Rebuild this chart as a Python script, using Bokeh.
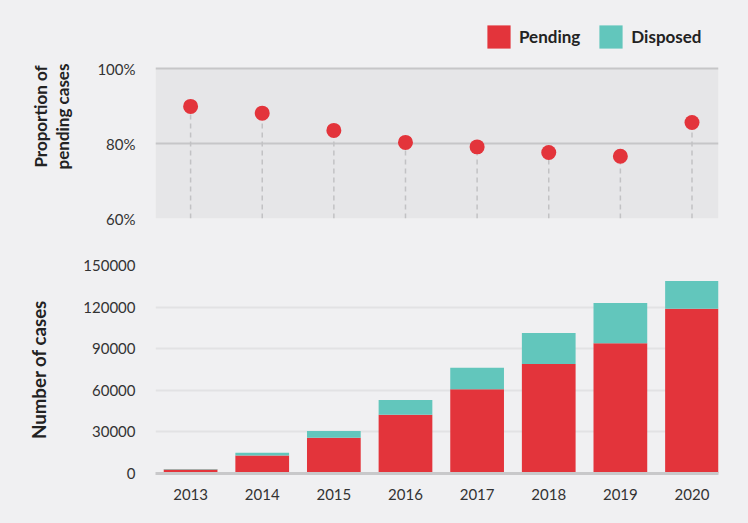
from bokeh.plotting import figure
from bokeh.layouts import column
from bokeh.models import (Range1d, FixedTicker, Legend, LegendItem, ColumnDataSource, BoxAnnotation,
                          PrintfTickFormatter, BasicTickFormatter, GlobalInlineStyleSheet)
from bokeh.embed import file_html
from bokeh.resources import INLINE

years = [2013, 2014, 2015, 2016, 2017, 2018, 2019, 2020]
pending_share = [89.9, 88.1, 83.5, 80.3, 79.1, 77.6, 76.6, 85.6]
pending = [2900, 13000, 25800, 42400, 60700, 79000, 94000, 118900]
disposed = [330, 1900, 4800, 10600, 15600, 22400, 29000, 20000]
share_ticks = [60, 80, 100]
count_ticks = [0, 30000, 60000, 90000, 120000, 150000]

RED = "#e3343b"
TEAL = "#62c6bc"
BG = "#f0f0f2"
PANEL = "#e6e6e8"
FONT = "Lato"
TXT = "#333333"

x_range = Range1d(2012.51, 2020.37)

# ---------- top panel: proportion of pending cases ----------
# frame extends above 100% to leave room for the legend; grey panel covers 60-100 only
TOP_FRAME_H = 204
PANEL_H = 150
share_span = share_ticks[-1] - share_ticks[0]
share_top = share_ticks[0] + share_span * TOP_FRAME_H / PANEL_H

p1 = figure(width=748, height=228, x_range=x_range, y_range=Range1d(share_ticks[0], share_top),
            output_backend="svg", toolbar_location=None,
            min_border_left=155, min_border_right=30, min_border_top=14, min_border_bottom=10)
p1.background_fill_color = BG
p1.border_fill_color = BG
p1.outline_line_color = None

p1.add_layout(BoxAnnotation(bottom=share_ticks[0], top=share_ticks[-1], fill_color=PANEL,
                            fill_alpha=1, line_color=None, level="image"))

src1 = ColumnDataSource(dict(x=years, y=pending_share, base=[share_ticks[0]] * len(years)))
p1.segment(x0="x", y0="base", x1="x", y1="y", source=src1,
           line_color="#c2c2c4", line_width=1.5, line_dash="5 4")
p1.scatter(x="x", y="y", source=src1, size=15, fill_color=RED, line_color=None)

p1.xaxis.visible = False
p1.xgrid.visible = False
p1.ygrid.grid_line_color = "#c6c6c8"
p1.ygrid.grid_line_width = 2
p1.yaxis.ticker = FixedTicker(ticks=share_ticks)
p1.yaxis.formatter = PrintfTickFormatter(format="%d%%")
p1.yaxis.axis_line_color = None
p1.yaxis.major_tick_line_color = None
p1.yaxis.minor_tick_line_color = None
p1.yaxis.major_label_standoff = 14
p1.yaxis.major_label_text_font = FONT
p1.yaxis.major_label_text_font_size = "15px"
p1.yaxis.major_label_text_color = TXT
p1.yaxis.axis_label = "Proportion of\npending cases"
p1.yaxis.axis_label_text_font = FONT
p1.yaxis.axis_label_text_font_style = "bold"
p1.yaxis.axis_label_text_font_size = "17px"
p1.yaxis.axis_label_text_line_height = 1.05
p1.yaxis.axis_label_text_color = "#222222"
p1.yaxis.axis_label_standoff = 21

# legend: hidden renderers that carry the series colours
r_p = p1.vbar(x="x", top="y", width=0.5, source=src1, fill_color=RED, line_color=None, visible=False)
r_d = p1.vbar(x="x", top="y", width=0.5, source=src1, fill_color=TEAL, line_color=None, visible=False)
legend = Legend(items=[LegendItem(label="Pending", renderers=[r_p]),
                       LegendItem(label="Disposed", renderers=[r_d])],
                orientation="horizontal", location=(329, 167),
                glyph_width=29, glyph_height=29, label_standoff=6, spacing=16,
                padding=0, margin=0, border_line_color=None, background_fill_alpha=0,
                inactive_fill_alpha=0,
                label_text_font=FONT, label_text_font_style="bold",
                label_text_font_size="17px", label_text_color="#222222")
p1.add_layout(legend)

# ---------- bottom panel: number of cases ----------
p2 = figure(width=748, height=292, x_range=x_range, y_range=Range1d(count_ticks[0], count_ticks[-1]),
            output_backend="svg", toolbar_location=None,
            min_border_left=155, min_border_right=30, min_border_top=37, min_border_bottom=47)
p2.background_fill_color = BG
p2.border_fill_color = BG
p2.outline_line_color = None

src2 = ColumnDataSource(dict(x=years, pending=pending, disposed=disposed))
p2.vbar_stack(["pending", "disposed"], x="x", width=0.75, source=src2,
              fill_color=[RED, TEAL], line_color=None)

p2.xgrid.visible = False
p2.ygrid.grid_line_color = "#e2e2e4"
p2.ygrid.grid_line_width = 2
p2.yaxis.ticker = FixedTicker(ticks=count_ticks)
p2.yaxis.formatter = BasicTickFormatter(use_scientific=False)
p2.yaxis.axis_line_color = None
p2.yaxis.major_tick_line_color = None
p2.yaxis.minor_tick_line_color = None
p2.yaxis.major_label_standoff = 14
p2.yaxis.major_label_text_font = FONT
p2.yaxis.major_label_text_font_size = "15px"
p2.yaxis.major_label_text_color = TXT
p2.yaxis.axis_label = "Number of cases"
p2.yaxis.axis_label_text_font = FONT
p2.yaxis.axis_label_text_font_style = "bold"
p2.yaxis.axis_label_text_font_size = "18.7px"
p2.yaxis.axis_label_text_color = "#222222"
p2.yaxis.axis_label_standoff = 30

p2.xaxis.ticker = FixedTicker(ticks=years)
p2.xaxis.axis_line_color = "#c8c8ca"
p2.xaxis.axis_line_width = 3
p2.xaxis.major_tick_line_color = None
p2.xaxis.minor_tick_line_color = None
p2.xaxis.major_label_standoff = 9
p2.xaxis.major_label_text_font = FONT
p2.xaxis.major_label_text_font_size = "15px"
p2.xaxis.major_label_text_color = TXT

layout = column(p1, p2, stylesheets=[GlobalInlineStyleSheet(css="body{background:#f0f0f2;}")])

open("out.html", "w").write(file_html(layout, INLINE))
